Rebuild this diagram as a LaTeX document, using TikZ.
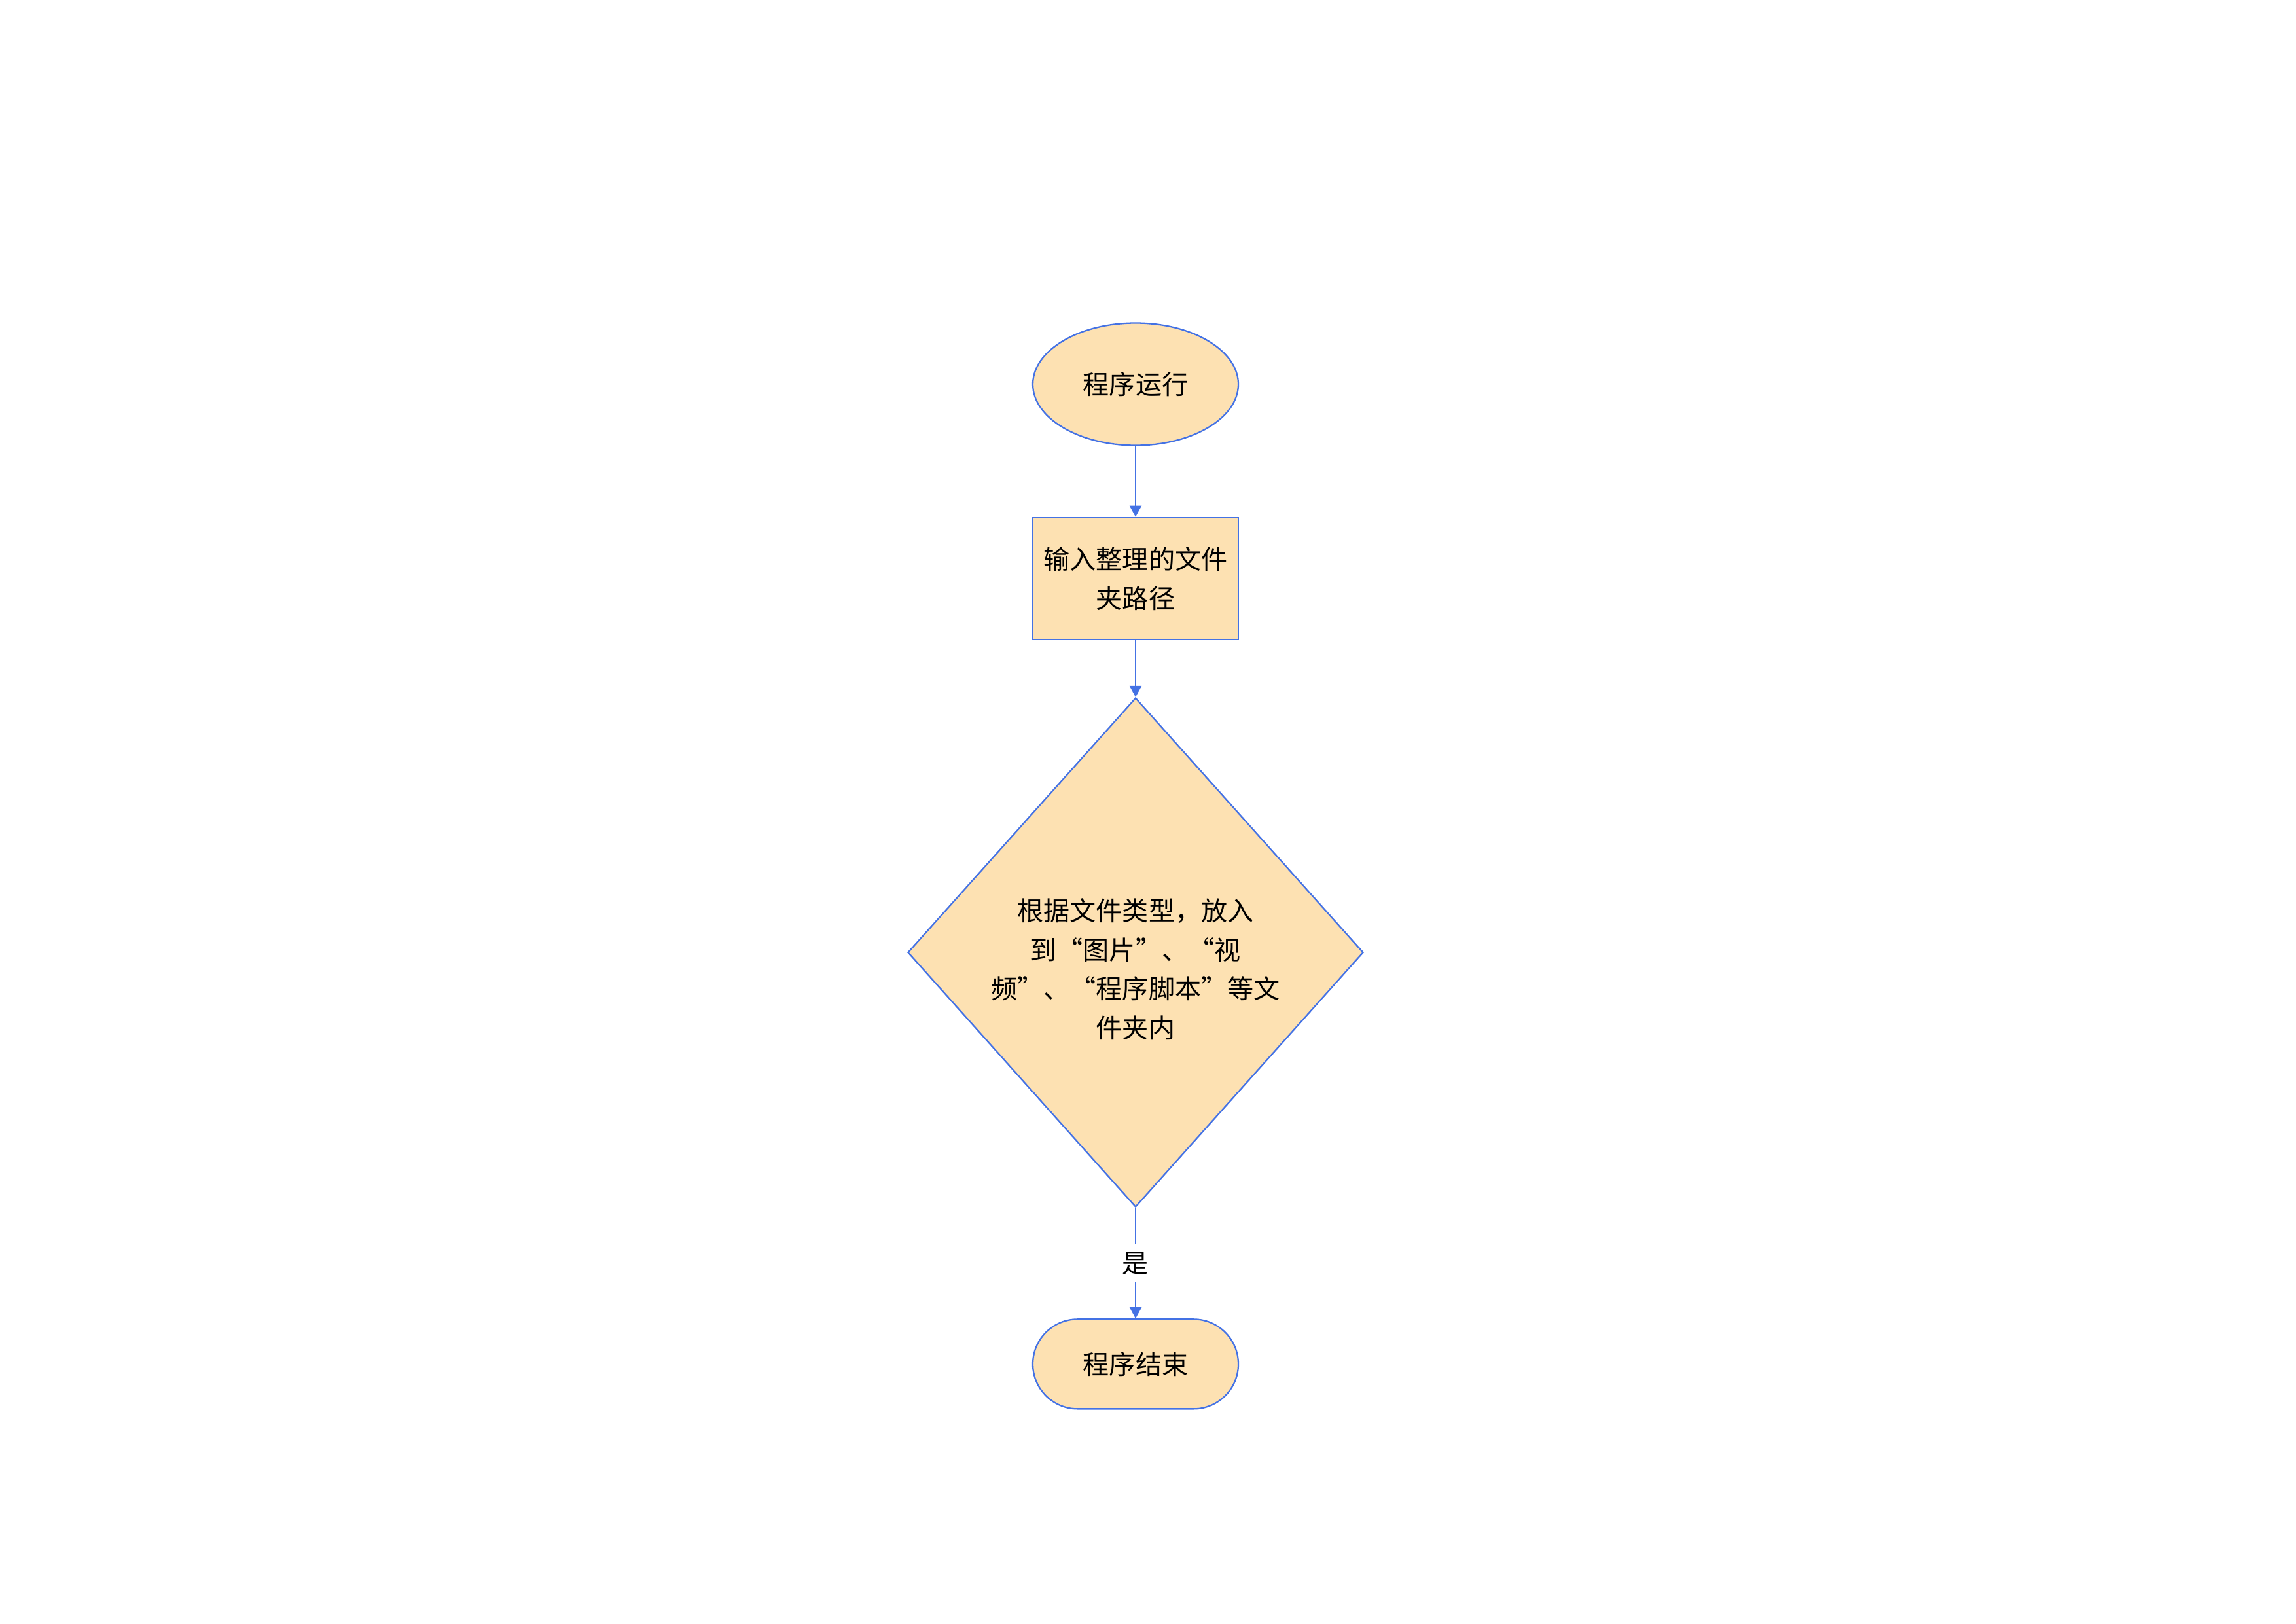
\documentclass[tikz,border=0pt]{standalone}
\usepackage{fontspec}
\setmainfont{Noto Sans CJK SC}
\usepackage{tikz}
\usetikzlibrary{arrows.meta,positioning,shapes.geometric}
\definecolor{flowblue}{HTML}{4472E4}
\definecolor{flowfill}{HTML}{FDE1B2}

\begin{document}
\begin{tikzpicture}[
    font=\fontsize{11.4pt}{17pt}\selectfont,
    >={Triangle[length=1.7mm,width=1.8mm]},
    startnode/.style={
        ellipse, draw=flowblue, fill=flowfill, line width=0.65pt,
        inner sep=0pt, minimum width=3.14cm, minimum height=1.87cm},
    proc/.style={
        rectangle, draw=flowblue, fill=flowfill, line width=0.65pt,
        align=center, inner sep=0pt,
        minimum width=3.14cm, minimum height=1.86cm},
    decide/.style={
        diamond, draw=flowblue, fill=flowfill, line width=0.65pt,
        inner sep=0pt,
        minimum width=6.96cm, minimum height=7.78cm},
    endnode/.style={
        rectangle, rounded corners=6.85mm, draw=flowblue, fill=flowfill,
        line width=0.65pt, inner sep=0pt,
        minimum width=3.14cm, minimum height=1.37cm},
    arr/.style={->, draw=flowblue, line width=0.6pt},
    lbl/.style={fill=white, inner sep=1.2mm}
]

\useasboundingbox (0,0) rectangle (35.08,-24.80);

%% ══════════════════════════════ FLOW ══════════════════════════════
\node[startnode] (start) at (17.35,-5.87) {程序运行};
\node[proc, below=1.08cm of start] (path)
    {输入整理的文件\\夹路径};
%% text sits a little below the diamond's centre
\node[decide, below=0.87cm of path] (sort)
    {\raisebox{-2.9mm}[\height][\depth]{\begin{tabular}{@{}c@{}}
     根据文件类型，放入\\到“图片”、“视\\频”、“程序脚本”等文\\件夹内
     \end{tabular}}};
\node[endnode, below=1.69cm of sort] (stop) {程序结束};

\draw[arr] (start) -- (path);
\draw[arr] (path)  -- (sort);
\draw[arr] (sort)  -- node[lbl] {是} (stop);

\end{tikzpicture}
\end{document}
